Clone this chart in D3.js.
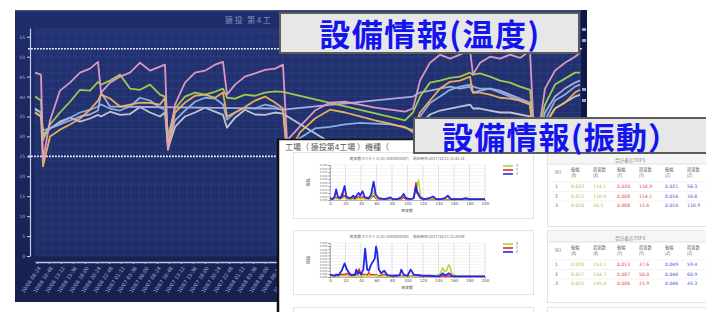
<!DOCTYPE html>
<html>
<head>
<meta charset="utf-8">
<script src="https://cdn.jsdelivr.net/npm/d3@7"></script>
<style>
html, body { margin: 0; padding: 0; background: #fff; }
svg { display: block; font-family: "Noto Sans CJK JP", "Noto Sans", sans-serif; }
</style>
</head>
<body>
<svg id="chart" width="706" height="312"></svg>
<script>
// ---- temperature trend (hours from start) ----
var hours = [0,1.2,1.6,3,5,7,9,11,12.6,13.2,15,17,19,21,23,25,26,26.6,28,30,32,34,36,37.6,38.4,40,42,44,46,48,
             49.6,50.4,53,56,59,62,65,68,71,74,75.6,77,79,81,83,85,87,87.6,89,91,93,95,97,99,100,102,104,106,108,109];

var tempPink = [46,45.5,24,34,41.5,43.5,46,47,48.7,41,
                43.5,45,46,48.5,46.5,47.5,48,27,38,43.5,
                46,46.5,48,48.7,40.5,43,45,45.8,46.7,47,
                48,29,32.5,36.5,38.5,38.7,38,37.2,36.7,36.2,
                37,44,48.5,50.5,49.5,50.5,51.7,45.5,48.5,50,
                49.5,50.5,49.7,51.5,25,42,46.5,48.5,50,51];
var tempGreen = [40,39,29,33,36,38.7,41.7,41.5,43.7,43,
                 44,45.5,42,41.7,43,40.5,40,30,37,40,
                 41,40.5,41.2,42,39.7,39.5,40.5,40.2,41,41.3,
                 41.2,null,null,null,null,null,null,null,null,34,
                 36,40,43.5,44,44.7,45,46,45.5,45.8,45,
                 44,43.5,42.5,41.7,28,38,43,44.5,46,46];
var tempOrange = [36,35,22.5,30,31.7,33,34.5,36.7,39,40.5,
                  39.5,37.5,38,38.5,38.4,38,39.7,26.6,36,38.5,
                  40.2,40.5,39.7,41,35,36,37.4,39,40,38.5,
                  37,25,31,34.5,36.7,36,35,34,33.2,32.2,
                  31.5,36,39,42,43.7,44,45,41,41,40.5,
                  39.7,39.5,39,38,26,33,37,38.5,41,41.7];
var tempBlue = [36.7,36,31.5,32,33.4,34.7,36,36.7,37.5,38,
                37,36.5,37.5,39.7,39,37.2,36.7,28,34,36.5,
                38.7,39.7,39.5,38,34.2,36,37.2,37,38,37.5,
                36.5,27,29.6,32,32.4,33,33.4,33.2,33,32.4,
                31,35,38.4,40,41.7,42.5,43,42.5,42,42,
                41,40,39,38,26.5,34,39,40.5,42.5,43];
var tempGray = [37,36,30,32,33.7,34.7,33.7,34.5,35.4,35,
                36.2,35.4,35.6,37.4,36,35,36,27,32.4,35,
                36,37.2,36.2,35.4,32.2,34.7,36.7,35.5,35.4,36,
                35.7,null,null,null,null,null,null,null,null,17,
                26,33,35.5,36.5,37,37.5,38,37,37,36.5,
                36,36,35.5,35,26,33,37,38.5,40,40.5];
var tempLavender = [36,35,30.5,32,33,34,35,35.5,36.5,41,
                    37.5,null,null,null,null,null,null,null,null,null,
                    null,null,null,null,null,null,null,null,null,37,
                    36.7,null,null,null,null,null,null,null,null,null,
                    40,41,41.5,42,42.5,42,42.5,41,41.5,42,
                    41.5,40.5,39.5,38.5,27,36,40,42,43.5,44];

var tempTicks = [0,5,10,15,20,25,30,35,40,45,50,55];
var limitHigh = 52, limitLow = 25;

// ---- vibration spectra ----
var freq1 = [0,3,6,8,10,13,15.6,17,18.8,21,25,28,30,32,35,37,39,42,45,50,53,56.3,59,63,70,75,78,81,87,92,
             95,98,104,108,110.9,112.5,114.1,117,122,128,133,137,143,148,152,156,165,170,175,180,190,200];
var specZ1 = [0.002,0.001,0.004,0.012,0.004,0.002,0.004,0.010,0.016,0.004,
              0.002,0.003,0.005,0.002,0.006,0.008,0.005,0.010,0.003,0.002,
              0.006,0.021,0.006,0.002,0.001,0.002,0.003,0.001,0.001,0.003,
              0.007,0.002,0.001,0.002,0.016,0.008,0.006,0.002,0.001,0.002,
              0.004,0.001,0.001,0.002,0.005,0.001,0.001,0.001,0.002,0.001,0.001,0.001];
var specY1 = [0.001,0.001,0.002,0.003,0.002,0.002,0.008,0.004,0.005,0.002,
              0.001,0.001,0.002,0.001,0.003,0.004,0.002,0.004,0.002,0.001,
              0.002,0.005,0.002,0.001,0.001,0.001,0.001,0.001,0.001,0.001,
              0.003,0.001,0.001,0.002,0.020,0.010,0.008,0.002,0.001,0.001,
              0.001,0.001,0.001,0.001,0.001,0.001,0.001,0.001,0.001,0.001,0.001,0.001];
var specX1 = [0.001,0.001,0.001,0.002,0.001,0.001,0.002,0.002,0.003,0.001,
              0.001,0.001,0.001,0.001,0.001,0.002,0.001,0.002,0.001,0.001,
              0.002,0.010,0.003,0.001,0.001,0.001,0.001,0.001,0.001,0.002,
              0.006,0.002,0.001,0.002,0.012,0.015,0.023,0.004,0.001,0.001,
              0.002,0.001,0.001,0.001,0.002,0.001,0.001,0.001,0.001,0.001,0.001,0.001];

var freq2 = [0,3,6,8,11,15,18.8,21.9,25,28,30,32,34,36,37.6,40,43,45.3,48,50,53,56,57.8,59.4,60.9,63,66,70,74,80,
             86,90,92,95,100,104,108,114,120,130,138,142,145.4,148,151,153.1,154.7,157,162,170,180,190,200];
var specZ2 = [0.004,0.003,0.002,0.004,0.003,0.010,0.022,0.012,0.006,0.003,
              0.004,0.003,0.012,0.006,0.008,0.004,0.012,0.046,0.012,0.010,
              0.020,0.026,0.030,0.049,0.040,0.012,0.006,0.010,0.003,0.002,
              0.002,0.003,0.012,0.004,0.002,0.012,0.004,0.003,0.002,0.002,
              0.001,0.002,0.006,0.003,0.004,0.006,0.005,0.002,0.001,0.001,0.001,0.001,0.001];
var specY2 = [0.002,0.002,0.002,0.002,0.003,0.004,0.004,0.006,0.003,0.002,
              0.002,0.004,0.005,0.004,0.013,0.004,0.004,0.004,0.003,0.007,
              0.003,0.004,0.003,0.004,0.003,0.002,0.003,0.004,0.002,0.002,
              0.003,0.002,0.002,0.002,0.002,0.002,0.002,0.002,0.001,0.001,
              0.001,0.001,0.002,0.001,0.001,0.002,0.001,0.001,0.001,0.001,0.001,0.001,0.001];
var specX2 = [0.001,0.001,0.001,0.001,0.001,0.002,0.002,0.002,0.001,0.001,
              0.001,0.001,0.002,0.001,0.002,0.001,0.001,0.003,0.001,0.002,
              0.002,0.002,0.002,0.003,0.002,0.001,0.001,0.002,0.001,0.001,
              0.001,0.001,0.002,0.001,0.001,0.002,0.001,0.004,0.001,0.002,
              0.003,0.005,0.015,0.008,0.012,0.020,0.017,0.006,0.002,0.001,0.001,0.001,0.001];
var freqTicks = [0,20,40,60,80,100,120,140,160,180,200];

// ---- top3 tables ----
var tableCols = ["NO", "振幅\n(X)", "周波数\n(X)", "振幅\n(Y)", "周波数\n(Y)", "振幅\n(Z)", "周波数\n(Z)"];
var top3First = [["1","0.023","114.1","0.020","110.9","0.021","56.3"],
                 ["2","0.012","110.9","0.008","114.1","0.016","16.8"],
                 ["3","0.010","56.3","0.008","15.6","0.016","110.9"]];
var top3Second = [["1","0.020","153.1","0.013","37.6","0.049","59.4"],
                  ["2","0.017","154.7","0.007","50.0","0.040","60.9"],
                  ["3","0.015","145.4","0.006","21.9","0.046","45.3"]];

var svg = d3.select("#chart");
var defs = svg.append("defs");
var grad = defs.append("linearGradient").attr("id", "panelGrad")
  .attr("x1", 0).attr("y1", 0).attr("x2", 0).attr("y2", 1);
grad.append("stop").attr("offset", "0%").attr("stop-color", "#1f2d6c");
grad.append("stop").attr("offset", "100%").attr("stop-color", "#172150");

// ================= temperature panel =================
var panel = svg.append("g");
panel.append("rect").attr("x", 15).attr("y", 10).attr("width", 572).attr("height", 292)
  .attr("fill", "url(#panelGrad)");
panel.append("rect").attr("x", 15).attr("y", 10).attr("width", 572).attr("height", 1.5).attr("fill", "#3a4a8a");
panel.append("rect").attr("x", 35).attr("y", 28).attr("width", 547).attr("height", 228)
  .attr("fill", "#27387a").attr("opacity", 0.55);
panel.append("rect").attr("x", 581).attr("y", 10).attr("width", 6).attr("height", 292).attr("fill", "#0f1846");
[28, 39, 88, 99].forEach(function (yy) {
  panel.append("rect").attr("x", 582).attr("y", yy).attr("width", 4).attr("height", 3).attr("fill", "#9aa4c0");
});

var x = d3.scaleLinear().domain([0, 109]).range([35, 580]);
var y = d3.scaleLinear().domain([0, 57.2]).range([256, 28]);

// faint grid
var grid = panel.append("g").attr("stroke", "#8ea4e6").attr("stroke-opacity", 0.13).attr("stroke-width", 0.6);
grid.selectAll("line.v").data(d3.range(0, 109.5, 1.6)).join("line")
  .attr("x1", function (d) { return x(d); }).attr("x2", function (d) { return x(d); })
  .attr("y1", 28).attr("y2", 256);
grid.selectAll("line.h").data(d3.range(0, 57, 2)).join("line")
  .attr("y1", function (d) { return y(d); }).attr("y2", function (d) { return y(d); })
  .attr("x1", 35).attr("x2", 582);

// title (the rest is hidden under the caption box)
panel.append("text").attr("x", 225).attr("y", 23).attr("font-size", 8).attr("letter-spacing", 1.5)
  .attr("fill", "#8592bd").text("猿投 第4工");

// y axis
panel.append("g").attr("transform", "translate(30,0)")
  .call(d3.axisLeft(y).tickValues(tempTicks).tickSize(3).tickSizeOuter(0).tickPadding(2))
  .call(function (g) {
    g.select(".domain").attr("stroke", "#c5cde8").attr("stroke-width", 1.2);
    g.selectAll(".tick line").attr("stroke", "#c5cde8");
    g.selectAll(".tick text").attr("fill", "#a9b3d6").attr("font-size", 4.5).attr("font-family", "DejaVu Sans");
  });

// x axis with rotated time labels
var startTime = new Date(2017, 9, 6, 8, 0);
var fmtTime = d3.timeFormat("%m/%d %H:%M");
var xLabelHours = d3.range(0.4, 109, 2.4);
panel.append("g").attr("transform", "translate(0,262)")
  .call(d3.axisBottom(x).tickValues(xLabelHours).tickSize(2).tickSizeOuter(0).tickPadding(2)
    .tickFormat(function (h) { return fmtTime(new Date(startTime.getTime() + h * 3600000)); }))
  .call(function (g) {
    g.select(".domain").attr("stroke", "#c0c8e2").attr("stroke-width", 1.5);
    g.selectAll(".tick line").attr("stroke", "#aeb8d8");
    g.selectAll(".tick text").attr("fill", "#aab4d6").attr("font-size", 5).attr("font-family", "DejaVu Sans")
      .attr("text-anchor", "end").attr("dy", "0.3em")
      .attr("transform", "translate(-1,3) rotate(-56)");
  });

// limit lines
[limitHigh, limitLow].forEach(function (v) {
  panel.append("line").attr("x1", 28).attr("x2", 582).attr("y1", y(v)).attr("y2", y(v))
    .attr("stroke", "#eef1fa").attr("stroke-width", 1.6).attr("stroke-dasharray", "1.8,1.2");
});

var tempSeries = [
  { values: tempGray, color: "#c9ccd4" },
  { values: tempLavender, color: "#b4aee6" },
  { values: tempBlue, color: "#8fb5e6" },
  { values: tempOrange, color: "#f0b45c" },
  { values: tempGreen, color: "#a6d24a" },
  { values: tempPink, color: "#e79cc4" }
];
var tempLine = d3.line().x(function (d) { return x(d.t); }).y(function (d) { return y(d.v); });
var plotClip = defs.append("clipPath").attr("id", "plotClip");
plotClip.append("rect").attr("x", 33).attr("y", 20).attr("width", 548).attr("height", 240);
var lines = panel.append("g").attr("clip-path", "url(#plotClip)");
tempSeries.forEach(function (s) {
  var pts = hours.map(function (t, i) { return { t: t, v: s.values[i] }; })
    .filter(function (d) { return d.v != null; });
  lines.append("path").datum(pts).attr("d", tempLine)
    .attr("fill", "none").attr("stroke", s.color).attr("stroke-width", 1.8)
    .attr("stroke-linejoin", "round").attr("opacity", 0.95);
});

// caption box 1
svg.append("rect").attr("x", 280).attr("y", 13).attr("width", 299).attr("height", 40)
  .attr("fill", "#e7e7e7").attr("stroke", "#5c5c5c").attr("stroke-width", 2);
svg.append("text").attr("x", 430).attr("y", 46).attr("text-anchor", "middle").attr("letter-spacing", 1.5)
  .attr("font-size", 31).attr("font-weight", 700).attr("fill", "#1414ee").text("設備情報(温度)");

// ================= vibration overlay =================
var ov = svg.append("g");
ov.append("rect").attr("x", 277).attr("y", 139).attr("width", 430).attr("height", 175).attr("fill", "#fff");
ov.append("line").attr("x1", 278).attr("x2", 278).attr("y1", 138.5).attr("y2", 312).attr("stroke", "#111").attr("stroke-width", 2.5);
ov.append("line").attr("x1", 277).attr("x2", 706).attr("y1", 139.5).attr("y2", 139.5).attr("stroke", "#111").attr("stroke-width", 1.5);
ov.append("text").attr("x", 285).attr("y", 150).attr("font-size", 8).attr("fill", "#555")
  .text("工場（ 猿投第4工場 ）機種（");

// cards
[[293.5, 152.5, 240, 66], [293.5, 230.5, 240, 64], [293.5, 307.5, 240, 20],
 [547.5, 152.5, 170, 74], [547.5, 230.5, 170, 72], [547.5, 307.5, 170, 20]].forEach(function (c) {
  ov.append("rect").attr("x", c[0]).attr("y", c[1]).attr("width", c[2]).attr("height", c[3])
    .attr("fill", "#fff").attr("stroke", "#e3e3e3").attr("stroke-width", 1);
});

function drawSpectrum(freq, xs, ys, zs, yMax, yStep, top, bottom, title) {
  var g = ov.append("g");
  var fx = d3.scaleLinear().domain([0, 200]).range([330, 485]);
  var fy = d3.scaleLinear().domain([0, yMax]).range([bottom, top]);
  var yt = d3.range(0, yMax + 1e-9, yStep);
  g.selectAll("line.gv").data(freqTicks).join("line")
    .attr("x1", function (d) { return fx(d); }).attr("x2", function (d) { return fx(d); })
    .attr("y1", top).attr("y2", bottom).attr("stroke", "#cfcfcf").attr("stroke-width", 0.6);
  g.selectAll("line.gh").data(yt).join("line")
    .attr("y1", function (d) { return fy(d); }).attr("y2", function (d) { return fy(d); })
    .attr("x1", 330).attr("x2", 485).attr("stroke", "#e2e2e2").attr("stroke-width", 0.4);
  g.append("g").attr("transform", "translate(0," + bottom + ")")
    .call(d3.axisBottom(fx).tickValues(freqTicks).tickSize(1.2).tickPadding(0.5))
    .call(function (a) {
      a.select(".domain").attr("stroke", "#888").attr("stroke-width", 0.6);
      a.selectAll(".tick line").attr("stroke", "#888");
      a.selectAll(".tick text").attr("font-size", 4).attr("fill", "#555").attr("font-family", "DejaVu Sans");
    });
  g.append("g").attr("transform", "translate(330,0)")
    .call(d3.axisLeft(fy).tickValues(yt).tickSize(1.5).tickPadding(1).tickFormat(d3.format(".3f")))
    .call(function (a) {
      a.select(".domain").attr("stroke", "#888").attr("stroke-width", 0.6);
      a.selectAll(".tick line").attr("stroke", "#888");
      a.selectAll(".tick text").attr("font-size", 2.6).attr("fill", "#666").attr("font-family", "DejaVu Sans");
    });
  g.append("text").attr("x", 407).attr("y", top - 5).attr("text-anchor", "middle")
    .attr("font-size", 3.8).attr("fill", "#666").text(title);
  g.append("text").attr("x", 407).attr("y", bottom + 11.5).attr("text-anchor", "middle")
    .attr("font-size", 3.8).attr("fill", "#555").text("周波数");
  g.append("text").attr("transform", "translate(310," + ((top + bottom) / 2) + ") rotate(-90)")
    .attr("text-anchor", "middle").attr("font-size", 4).attr("fill", "#555").text("振幅");
  var sl = d3.line().x(function (d) { return fx(d[0]); }).y(function (d) { return fy(d[1]); });
  var specs = [
    { name: "Y", vals: ys, color: "#ee2222", w: 1.4 },
    { name: "X", vals: xs, color: "#b5d52e", w: 1.4 },
    { name: "Z", vals: zs, color: "#2626e8", w: 1.8 }
  ];
  specs.forEach(function (s) {
    g.append("path").datum(freq.map(function (f, i) { return [f, s.vals[i]]; }))
      .attr("d", sl).attr("fill", "none").attr("stroke", s.color).attr("stroke-width", s.w)
      .attr("stroke-linejoin", "round");
  });
  [["X", "#b5d52e"], ["Y", "#ee2222"], ["Z", "#2626e8"]].forEach(function (l, i) {
    var ly = top + 1 + i * 4;
    g.append("line").attr("x1", 503).attr("x2", 513).attr("y1", ly).attr("y2", ly)
      .attr("stroke", l[1]).attr("stroke-width", 1.6);
    g.append("text").attr("x", 516).attr("y", ly + 1.2).attr("font-size", 3.5).attr("fill", "#666").text(l[0]);
  });
}

drawSpectrum(freq1, specX1, specY1, specZ1, 0.04, 0.004, 165, 200,
  "周波数スペクトル(ID: 0000000007)　測定時刻:2017/10/11 11:42:14");
drawSpectrum(freq2, specX2, specY2, specZ2, 0.055, 0.005, 243, 277,
  "周波数スペクトル(ID: 0000000008)　測定時刻:2017/10/11 11:28:09");

var colX = [555, 571, 593, 617, 639, 665, 687];
var colColor = ["#666", "#9fc74a", "#9fc74a", "#e4484b", "#e4484b", "#4b4fdc", "#4b4fdc"];

function drawTable(rows, top) {
  var g = ov.append("g");
  g.append("rect").attr("x", 548).attr("y", top + 0.5).attr("width", 160).attr("height", 11.5).attr("fill", "#f6f6f6");
  g.append("line").attr("x1", 548).attr("x2", 706).attr("y1", top + 12).attr("y2", top + 12).attr("stroke", "#e2e2e2");
  g.append("text").attr("x", 630).attr("y", top + 10).attr("text-anchor", "middle")
    .attr("font-size", 4.6).attr("fill", "#777").text("合計表示TOP3");
  tableCols.forEach(function (c, i) {
    var parts = c.split("\n");
    parts.forEach(function (p, k) {
      g.append("text").attr("x", colX[i]).attr("y", top + (parts.length === 1 ? 21.5 : 19 + k * 5.5))
        .attr("font-size", 4.2).attr("fill", "#666").text(p);
    });
  });
  rows.forEach(function (r, ri) {
    var ry = top + 36 + ri * 9.5;
    g.append("line").attr("x1", 552).attr("x2", 706).attr("y1", ry - 6).attr("y2", ry - 6)
      .attr("stroke", "#ececec").attr("stroke-width", 0.6);
    r.forEach(function (v, ci) {
      g.append("text").attr("x", colX[ci]).attr("y", ry).attr("font-size", 4.6)
        .attr("fill", colColor[ci]).attr("font-family", "DejaVu Sans").text(v);
    });
  });
}
drawTable(top3First, 152);
drawTable(top3Second, 230);

// caption box 2
svg.append("rect").attr("x", 414).attr("y", 118).attr("width", 300).attr("height", 35)
  .attr("fill", "#e7e7e7").attr("stroke", "#5c5c5c").attr("stroke-width", 2);
svg.append("text").attr("x", 442).attr("y", 148.5).attr("letter-spacing", 1.2)
  .attr("font-size", 31).attr("font-weight", 700).attr("fill", "#1414ee").text("設備情報(振動）");
</script>
</body>
</html>
